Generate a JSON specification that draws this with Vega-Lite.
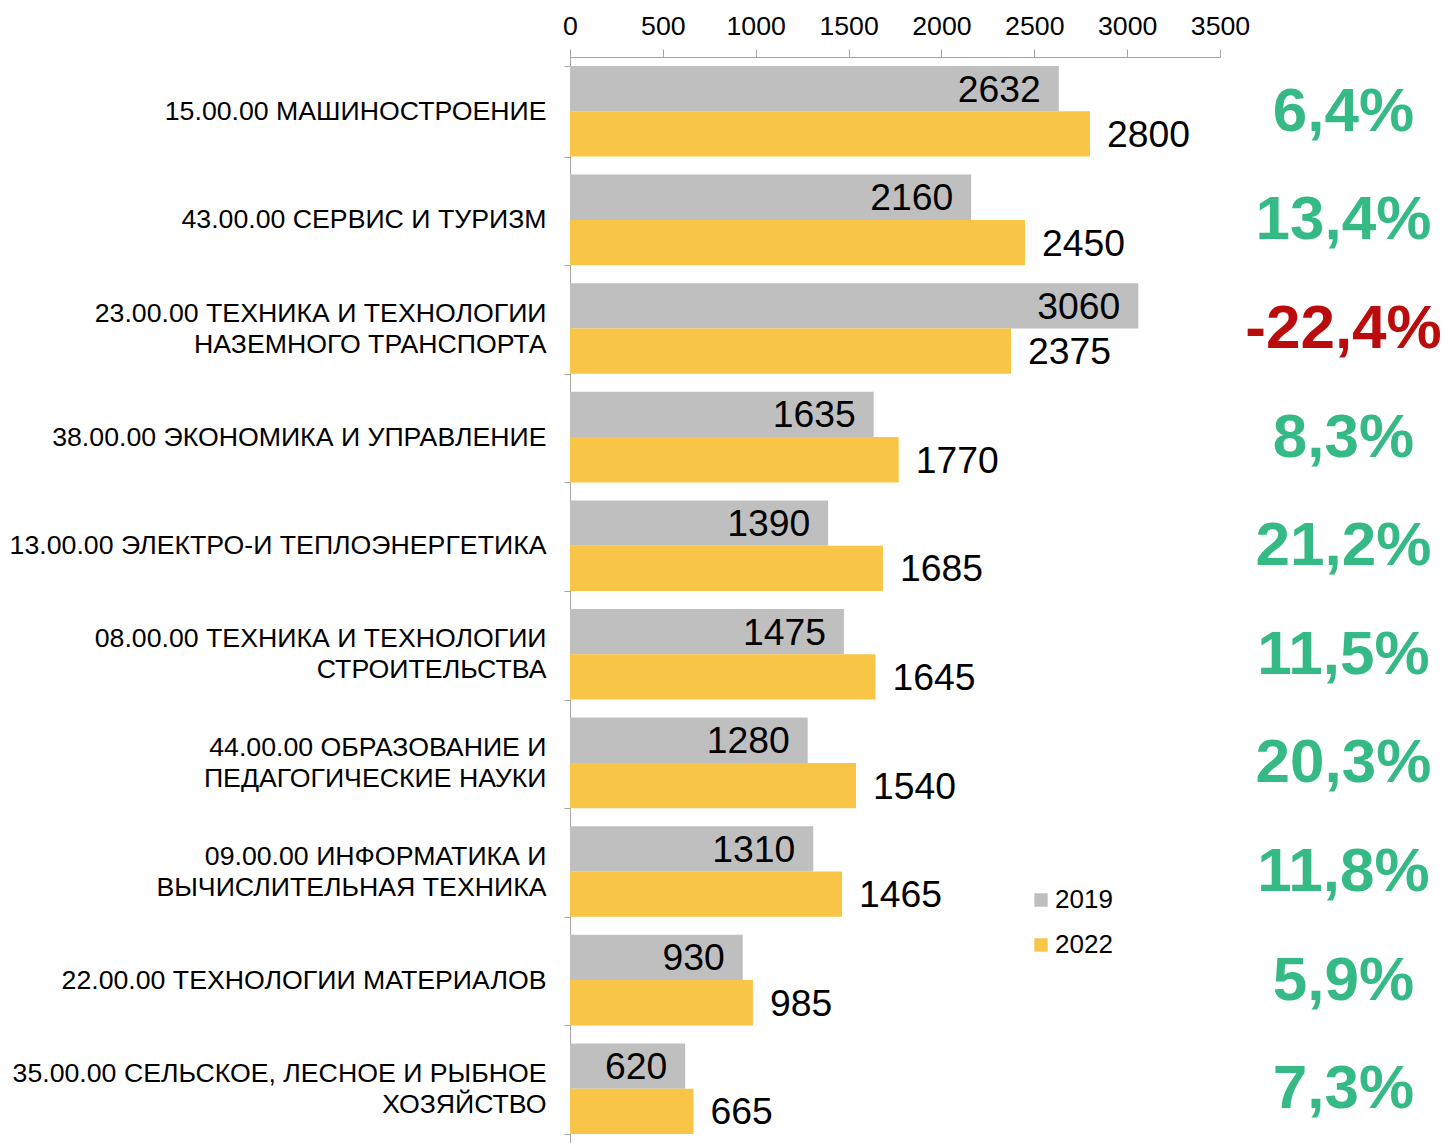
{
  "$schema": "https://vega.github.io/schema/vega-lite/v6.json",
  "autosize": "none",
  "padding": {"left": 570, "top": 57, "right": 224, "bottom": 0},
  "width": 650,
  "height": 1086,
  "config": {"font": "Liberation Sans", "view": {"stroke": null}},
  "data": {
    "values": [
      {"cat": "15.00.00 МАШИНОСТРОЕНИЕ", "year": "2019", "value": 2632, "pct": "6,4%"},
      {"cat": "15.00.00 МАШИНОСТРОЕНИЕ", "year": "2022", "value": 2800, "pct": "6,4%"},
      {"cat": "43.00.00 СЕРВИС И ТУРИЗМ", "year": "2019", "value": 2160, "pct": "13,4%"},
      {"cat": "43.00.00 СЕРВИС И ТУРИЗМ", "year": "2022", "value": 2450, "pct": "13,4%"},
      {"cat": "23.00.00 ТЕХНИКА И ТЕХНОЛОГИИ|НАЗЕМНОГО ТРАНСПОРТА", "year": "2019", "value": 3060, "pct": "-22,4%"},
      {"cat": "23.00.00 ТЕХНИКА И ТЕХНОЛОГИИ|НАЗЕМНОГО ТРАНСПОРТА", "year": "2022", "value": 2375, "pct": "-22,4%"},
      {"cat": "38.00.00 ЭКОНОМИКА И УПРАВЛЕНИЕ", "year": "2019", "value": 1635, "pct": "8,3%"},
      {"cat": "38.00.00 ЭКОНОМИКА И УПРАВЛЕНИЕ", "year": "2022", "value": 1770, "pct": "8,3%"},
      {"cat": "13.00.00 ЭЛЕКТРО-И ТЕПЛОЭНЕРГЕТИКА", "year": "2019", "value": 1390, "pct": "21,2%"},
      {"cat": "13.00.00 ЭЛЕКТРО-И ТЕПЛОЭНЕРГЕТИКА", "year": "2022", "value": 1685, "pct": "21,2%"},
      {"cat": "08.00.00 ТЕХНИКА И ТЕХНОЛОГИИ|СТРОИТЕЛЬСТВА", "year": "2019", "value": 1475, "pct": "11,5%"},
      {"cat": "08.00.00 ТЕХНИКА И ТЕХНОЛОГИИ|СТРОИТЕЛЬСТВА", "year": "2022", "value": 1645, "pct": "11,5%"},
      {"cat": "44.00.00 ОБРАЗОВАНИЕ И|ПЕДАГОГИЧЕСКИЕ НАУКИ", "year": "2019", "value": 1280, "pct": "20,3%"},
      {"cat": "44.00.00 ОБРАЗОВАНИЕ И|ПЕДАГОГИЧЕСКИЕ НАУКИ", "year": "2022", "value": 1540, "pct": "20,3%"},
      {"cat": "09.00.00 ИНФОРМАТИКА И|ВЫЧИСЛИТЕЛЬНАЯ ТЕХНИКА", "year": "2019", "value": 1310, "pct": "11,8%"},
      {"cat": "09.00.00 ИНФОРМАТИКА И|ВЫЧИСЛИТЕЛЬНАЯ ТЕХНИКА", "year": "2022", "value": 1465, "pct": "11,8%"},
      {"cat": "22.00.00 ТЕХНОЛОГИИ МАТЕРИАЛОВ", "year": "2019", "value": 930, "pct": "5,9%"},
      {"cat": "22.00.00 ТЕХНОЛОГИИ МАТЕРИАЛОВ", "year": "2022", "value": 985, "pct": "5,9%"},
      {"cat": "35.00.00 СЕЛЬСКОЕ, ЛЕСНОЕ И РЫБНОЕ|ХОЗЯЙСТВО", "year": "2019", "value": 620, "pct": "7,3%"},
      {"cat": "35.00.00 СЕЛЬСКОЕ, ЛЕСНОЕ И РЫБНОЕ|ХОЗЯЙСТВО", "year": "2022", "value": 665, "pct": "7,3%"}
    ]
  },
  "layer": [
    {
      "encoding": {
        "y": {
          "field": "cat", "type": "nominal", "sort": null,
          "scale": {"paddingInner": 0.166, "paddingOuter": 0.083},
          "axis": {
            "title": null, "orient": "left",
            "labelExpr": "datum.value ? split(datum.value, '|') : ''",
            "labelFontSize": 26.7, "labelColor": "#000000", "labelLineHeight": 31,
            "labelLimit": 0, "labelPadding": 18,
            "labelOffset": {"condition": {"test": "datum.value && indexof(datum.value, '|') >= 0", "value": -15.5}, "value": 0},
            "tickBand": "extent", "tickSize": 6, "tickColor": "#a6a6a6",
            "domainColor": "#a6a6a6"
          }
        },
        "yOffset": {"field": "year", "type": "nominal", "sort": ["2019", "2022"]},
        "x": {
          "field": "value", "type": "quantitative",
          "scale": {"domain": [0, 3500], "nice": false},
          "axis": {
            "title": null, "orient": "top", "grid": false, "format": "d",
            "values": [0, 500, 1000, 1500, 2000, 2500, 3000, 3500],
            "labelFontSize": 26.7, "labelColor": "#000000",
            "labelFlush": false, "labelOverlap": false,
            "labelBaseline": "alphabetic", "labelPadding": 15,
            "tickSize": 8, "tickColor": "#a6a6a6", "domainColor": "#a6a6a6"
          }
        }
      },
      "layer": [
        {
          "mark": {"type": "bar"},
          "encoding": {
            "color": {
              "field": "year", "type": "nominal",
              "scale": {"domain": ["2019", "2022"], "range": ["#BFBFBF", "#F9C546"]},
              "legend": {
                "title": null, "orient": "none", "legendX": 458, "legendY": 830,
                "symbolType": "square", "symbolSize": 180, "symbolStrokeWidth": 0,
                "labelFontSize": 26, "labelColor": "#000000", "labelOffset": 1,
                "rowPadding": 19
              }
            }
          }
        },
        {
          "transform": [{"filter": "datum.year == '2019'"}],
          "mark": {"type": "text", "align": "right", "baseline": "middle", "dx": -18, "dy": 2, "fontSize": 37.3, "color": "#000000"},
          "encoding": {"text": {"field": "value", "type": "quantitative"}}
        },
        {
          "transform": [{"filter": "datum.year == '2022'"}],
          "mark": {"type": "text", "align": "left", "baseline": "middle", "dx": 17, "dy": 2, "fontSize": 37.3, "color": "#000000"},
          "encoding": {"text": {"field": "value", "type": "quantitative"}}
        }
      ]
    },
    {
      "mark": {"type": "point", "opacity": 0},
      "encoding": {
        "y": {
          "field": "pct", "type": "nominal", "sort": null,
          "scale": {"paddingInner": 0.166, "paddingOuter": 0.083},
          "axis": {
            "title": null, "orient": "right", "domain": false, "ticks": false,
            "labelFontSize": 62, "labelFontWeight": "bold",
            "labelAlign": "center", "labelBaseline": "middle", "labelPadding": 123,
            "labelLimit": 0,
            "labelColor": {"condition": {"test": "indexof(datum.value, '-') == 0", "value": "#BA0C0C"}, "value": "#35BA85"}
          }
        }
      }
    }
  ],
  "resolve": {"scale": {"y": "independent"}, "axis": {"y": "independent"}}
}
